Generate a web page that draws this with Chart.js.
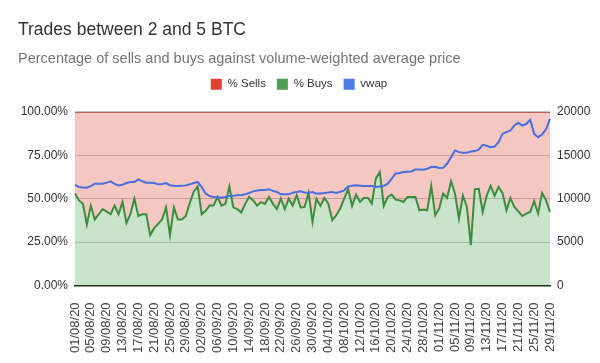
<!DOCTYPE html>
<html>
<head>
<meta charset="utf-8">
<script src="https://cdn.jsdelivr.net/npm/chart.js@4/dist/chart.umd.min.js"></script>
<style>
  html, body { margin: 0; padding: 0; background: #fff; }
  #wrap { width: 600px; height: 363px; }
</style>
</head>
<body>
<div id="wrap"><canvas id="chart"></canvas></div>
<script>
// % of trades that were buys, one value per day (01/08/20 .. 29/11/20)
const buys = [
    52.9, 49, 47, 35, 46, 38, 41, 44, 42.5, 41,
    46, 41, 48, 36, 41, 50, 40, 41, 41, 29,
    33, 35.5, 38, 45, 29, 45, 38, 38, 40, 47.5,
    54, 57, 41, 43, 46, 46, 51, 46, 47, 57,
    45, 44, 42, 47, 51, 49, 46, 48, 47, 51,
    47, 44, 50, 44, 50, 46, 52, 45, 45.2, 53.3,
    36.6, 50, 45.8, 50.4, 47.1, 37.5, 40.4, 44.3, 50, 55.4,
    45.8, 52.3, 48.1, 50.4, 50.4, 47.1, 61.5, 65.3, 45.8, 51,
    52.3, 49.4, 49, 48.1, 51, 51, 51, 43.3, 43.7, 43.3,
    57.3, 40.4, 44.3, 52.9, 50.4, 60, 52.9, 38.5, 51.7, 45.2,
    23.2, 55.4, 55.7, 42.3, 51.7, 57.3, 51.7, 56.7, 53.3, 43.3,
    50.4, 45.2, 42.7, 40, 41.4, 42.3, 48.5, 41.4, 53.3, 49, 42.3
];

// volume-weighted average price, same days
const vwap = [
    11600, 11350, 11280, 11260, 11450, 11720, 11720, 11720, 11850, 11990,
    11700, 11530, 11600, 11800, 11920, 11920, 12220, 12000, 11840, 11820,
    11800, 11650, 11700, 11800, 11550, 11480, 11450, 11500, 11530, 11650,
    11800, 11920, 11340, 10600, 10300, 10190, 10150, 10115, 10200, 10300,
    10320, 10380, 10430, 10500, 10650, 10840, 10950, 11000, 11000, 11070,
    10900, 10770, 10500, 10500, 10500, 10690, 10760, 10840, 10700, 10690,
    10770, 10580, 10600, 10650, 10700, 10770, 10650, 10800, 10960, 11420,
    11480, 11530, 11500, 11460, 11460, 11460, 11340, 11400, 11460, 11720,
    12300, 12900, 12950, 13060, 13100, 13140, 13370, 13370, 13330, 13450,
    13640, 13680, 13530, 13550, 14020, 14780, 15560, 15360, 15290, 15290,
    15440, 15480, 15650, 16200, 16100, 15940, 16010, 16500, 17460, 17660,
    17850, 18430, 18740, 18430, 18600, 19100, 17470, 17090, 17400, 18000, 19200
];

// sells are the rest of each day's trades
const sells = buys.map(b => +(100 - b).toFixed(1));

const pctTicks = [0, 25, 50, 75, 100];
const priceTicks = [0, 5000, 10000, 15000, 20000];

// day labels dd/mm/yy
const dates = [];
for (let i = 0; i < buys.length; i++) {
    const d = new Date(2020, 7, 1 + i);
    const dd = String(d.getDate()).padStart(2, "0");
    const mm = String(d.getMonth() + 1).padStart(2, "0");
    dates.push(dd + "/" + mm + "/20");
}

const font = "Arial, 'Liberation Sans', sans-serif";
const legendRank = [1, 0, 2]; // Sells, Buys, vwap

// extra room between the legend and the plot, legend centred on the page
const legendGap = {
    id: "legendGap",
    beforeInit(chart) {
        const fit = chart.legend.fit;
        chart.legend.fit = function () {
            fit.call(this);
            this.height += 12;
        };
    },
    afterLayout(chart) {
        chart.legend.right -= 20;
    }
};

new Chart(document.getElementById("chart"), {
    type: "line",
    data: {
        labels: dates,
        datasets: [
            {
                label: "% Buys",
                data: buys,
                yAxisID: "y",
                borderColor: "#3a8c3e",
                backgroundColor: "rgba(80,165,84,0.3)",
                legendColor: "#4e9f52",
                borderWidth: 2,
                fill: "origin",
                pointRadius: 0,
                tension: 0
            },
            {
                label: "% Sells",
                data: sells,
                yAxisID: "y",
                borderColor: "#a8443a",
                backgroundColor: "rgba(219,68,55,0.3)",
                legendColor: "#db4437",
                borderWidth: 1.5,
                fill: "-1",
                pointRadius: 0,
                tension: 0
            },
            {
                label: "vwap",
                data: vwap,
                yAxisID: "y1",
                borderColor: "#4a6fdc",
                backgroundColor: "#4a6fdc",
                legendColor: "#4a7ae6",
                borderWidth: 2,
                fill: false,
                pointRadius: 0,
                tension: 0,
                order: -1
            }
        ]
    },
    options: {
        responsive: true,
        maintainAspectRatio: false,
        animation: false,
        layout: { padding: { left: 18, right: 0, top: 0, bottom: 1 } },
        plugins: {
            title: {
                display: true,
                text: "Trades between 2 and 5 BTC",
                align: "start",
                color: "#333",
                font: { family: font, size: 17.5, weight: "normal" },
                padding: { top: 20, bottom: 2 }
            },
            subtitle: {
                display: true,
                text: "Percentage of sells and buys against volume-weighted average price",
                align: "start",
                color: "#757575",
                font: { family: font, size: 14.5 },
                padding: { top: 7, bottom: 0 }
            },
            legend: {
                display: true,
                labels: {
                    color: "#333",
                    font: { family: font, size: 11.5 },
                    boxWidth: 11,
                    boxHeight: 11,
                    padding: 11,
                    sort: (a, b) => legendRank[a.datasetIndex] - legendRank[b.datasetIndex],
                    generateLabels: function (chart) {
                        const items = Chart.defaults.plugins.legend.labels.generateLabels(chart);
                        items.forEach(it => {
                            const c = chart.data.datasets[it.datasetIndex].legendColor;
                            it.fillStyle = c;
                            it.strokeStyle = c;
                            it.lineWidth = 0;
                        });
                        return items;
                    }
                }
            },
            tooltip: { enabled: false }
        },
        scales: {
            x: {
                grid: { display: false },
                border: { display: true, color: "#1f2f1f", width: 1.5 },
                ticks: {
                    autoSkip: false,
                    maxRotation: 90,
                    minRotation: 90,
                    padding: 9,
                    color: "#444",
                    font: { family: font, size: 13 },
                    callback: function (val, i) {
                        return i % 4 === 0 ? dates[i] : null;
                    }
                }
            },
            y: {
                stacked: true,
                min: 0,
                max: 100,
                afterBuildTicks: s => { s.ticks = pctTicks.map(v => ({ value: v })); },
                afterFit: s => { s.width = 57; },
                grid: { color: "#c4c4c4", drawTicks: false },
                border: { display: false },
                ticks: {
                    padding: 7,
                    color: "#333",
                    font: { family: font, size: 12 },
                    callback: v => v.toFixed(2) + "%"
                }
            },
            y1: {
                position: "right",
                min: 0,
                max: 20000,
                afterBuildTicks: s => { s.ticks = priceTicks.map(v => ({ value: v })); },
                afterFit: s => { s.width = 50; },
                grid: { display: false, drawTicks: false },
                border: { display: false },
                ticks: {
                    padding: 7,
                    color: "#333",
                    font: { family: font, size: 12 },
                    callback: v => String(v)
                }
            }
        }
    },
    plugins: [legendGap]
});
</script>
</body>
</html>
